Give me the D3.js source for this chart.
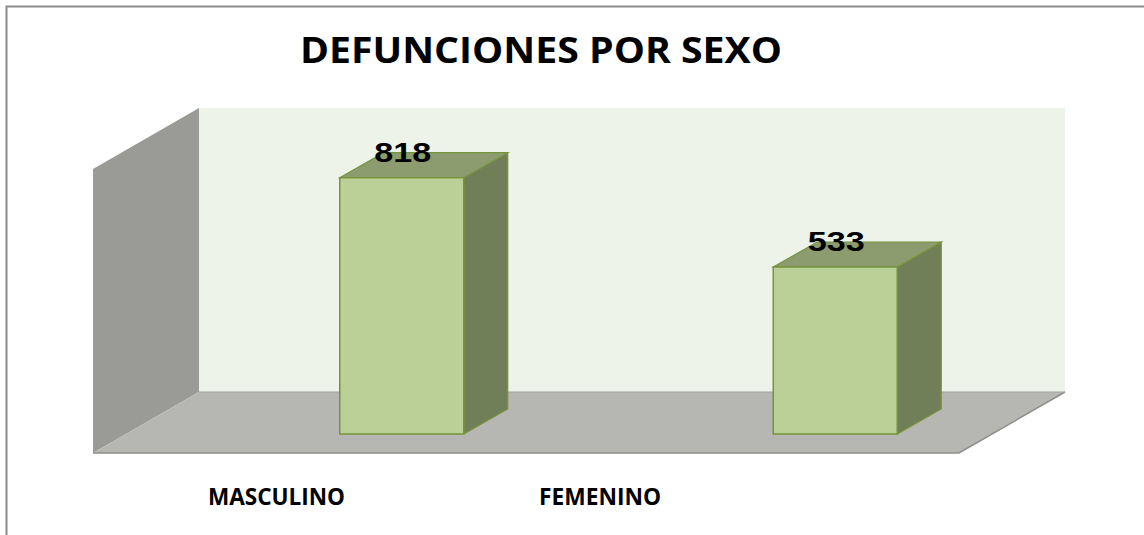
<!DOCTYPE html>
<html>
<head>
<meta charset="utf-8">
<script src="https://cdn.jsdelivr.net/npm/d3@7"></script>
<style>
html,body{margin:0;padding:0;background:#fff;}
svg{display:block;}
</style>
</head>
<body>
<svg id="chart" width="1144" height="535"></svg>
<script>
const categories = ["MASCULINO", "FEMENINO"];
const values = [818, 533];
const title = "DEFUNCIONES POR SEXO";
const valueDomain = [0, 900];

const svg = d3.select("#chart");

// outer frame (chart is cropped: only top and left borders visible)
svg.append("rect").attr("x", 6.5).attr("y", 6.5).attr("width", 1160).attr("height", 560)
  .attr("fill", "#fff").attr("stroke", "#8a8a8a").attr("stroke-width", 2);

// 3D geometry
const floorFrontY = 453, floorBackY = 392;
const wallDX = 106, wallDY = -61;
const frontLeft = 93, frontRight = 959;
const barDX = 44, barDY = -25;
const barBaseY = 434;

const y = d3.scaleLinear().domain(valueDomain).range([barBaseY, barBaseY - 282]);
const yBack = d3.scaleLinear().domain(valueDomain).range([floorBackY, floorBackY - 284]);

const x = d3.scaleBand().domain(categories).range([185, 1052])
  .paddingInner(0.714).paddingOuter(0.357);
const xLabel = d3.scalePoint().domain(categories).range([276.5, 600]);

const line = d3.line();
const topWall = yBack(valueDomain[1]);

// back wall
svg.append("path")
  .attr("d", line([[frontLeft + wallDX, topWall], [frontRight + wallDX, topWall], [frontRight + wallDX, floorBackY], [frontLeft + wallDX, floorBackY]]) + "Z")
  .attr("fill", "#eef3ea");

// left wall
svg.append("path")
  .attr("d", line([[frontLeft, topWall - wallDY], [frontLeft + wallDX, topWall], [frontLeft + wallDX, floorBackY], [frontLeft, floorFrontY]]) + "Z")
  .attr("fill", "#9a9b97");

// floor
svg.append("path")
  .attr("d", line([[frontLeft, floorFrontY], [frontLeft + wallDX, floorBackY], [frontRight + wallDX, floorBackY], [frontRight, floorFrontY]]) + "Z")
  .attr("fill", "#b6b7b3");
svg.append("path")
  .attr("d", line([[frontLeft, floorFrontY], [frontRight, floorFrontY], [frontRight + wallDX, floorBackY]]))
  .attr("fill", "none").attr("stroke", "#8e8e8c").attr("stroke-width", 1.5);
svg.append("path")
  .attr("d", line([[frontLeft + wallDX, floorBackY], [frontRight + wallDX, floorBackY]]))
  .attr("fill", "none").attr("stroke", "#a2a3a0").attr("stroke-width", 1);

// bars
const bars = svg.append("g").selectAll("g").data(categories.map((c, i) => ({c, v: values[i]})))
  .join("g");

bars.each(function(d) {
  const g = d3.select(this);
  const x0 = x(d.c), x1 = x(d.c) + x.bandwidth();
  const yt = y(d.v), yb = y(0);
  // side
  g.append("path")
    .attr("d", line([[x1, yt], [x1 + barDX, yt + barDY], [x1 + barDX, yb + barDY], [x1, yb]]) + "Z")
    .attr("fill", "#717f58").attr("stroke", "#76943c").attr("stroke-width", 1.2);
  // top
  g.append("path")
    .attr("d", line([[x0, yt], [x0 + barDX, yt + barDY], [x1 + barDX, yt + barDY], [x1, yt]]) + "Z")
    .attr("fill", "#8c9c6e").attr("stroke", "#76943c").attr("stroke-width", 1.2);
  // front
  g.append("rect")
    .attr("x", x0).attr("y", yt).attr("width", x1 - x0).attr("height", yb - yt)
    .attr("fill", "#bbd097").attr("stroke", "#76943c").attr("stroke-width", 1.5);
  // value label
  g.append("text")
    .attr("x", (x0 + x1) / 2 + 1).attr("y", yt - 16)
    .attr("text-anchor", "middle")
    .attr("font-family", "Liberation Sans, Arial, sans-serif")
    .attr("font-weight", "bold").attr("font-size", 28)
    .attr("textLength", 57).attr("lengthAdjust", "spacingAndGlyphs")
    .attr("fill", "#000").text(d.v);
});

// category labels
svg.append("g").selectAll("text").data(categories).join("text")
  .attr("x", d => xLabel(d)).attr("y", 505)
  .attr("text-anchor", "middle")
  .attr("font-family", "Open Sans, sans-serif").attr("font-weight", "bold").attr("font-size", 23.5)
  .attr("textLength", (d, i) => i === 0 ? 137 : 122).attr("lengthAdjust", "spacingAndGlyphs")
  .attr("fill", "#000").text(d => d);

// title
svg.append("text")
  .attr("x", 541).attr("y", 63).attr("text-anchor", "middle")
  .attr("font-family", "Open Sans, sans-serif").attr("font-weight", "bold").attr("font-size", 35)
  .attr("textLength", 482).attr("lengthAdjust", "spacingAndGlyphs")
  .attr("fill", "#000").text(title);
</script>
</body>
</html>
